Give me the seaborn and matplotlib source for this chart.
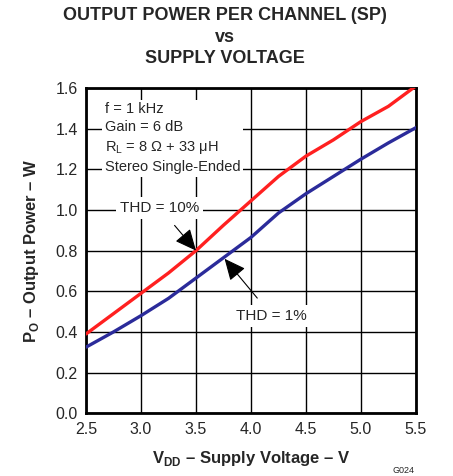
import pandas as pd
import seaborn as sns
import matplotlib.pyplot as plt

# supply voltage (V)
vdd = [2.5, 2.75, 3.0, 3.25, 3.5, 3.75, 4.0, 4.25, 4.5, 4.75, 5.0, 5.25, 5.5]
# output power per channel (W)
thd_10 = [0.39, 0.49, 0.59, 0.69, 0.80, 0.925, 1.045, 1.165, 1.265, 1.345, 1.435, 1.51, 1.61]
thd_1 = [0.325, 0.40, 0.48, 0.565, 0.665, 0.765, 0.865, 0.985, 1.08, 1.165, 1.25, 1.33, 1.405]

x_ticks = [2.5, 3.0, 3.5, 4.0, 4.5, 5.0, 5.5]
y_ticks = [0.0, 0.2, 0.4, 0.6, 0.8, 1.0, 1.2, 1.4, 1.6]

df = pd.DataFrame({
    "vdd": vdd * 2,
    "power": thd_10 + thd_1,
    "thd": ["THD = 10%"] * len(vdd) + ["THD = 1%"] * len(vdd),
})

sns.set_style("white")
plt.rcParams["font.family"] = ["Liberation Sans", "DejaVu Sans"]
plt.rcParams["mathtext.fontset"] = "custom"
plt.rcParams["mathtext.rm"] = "Liberation Sans"
plt.rcParams["mathtext.bf"] = "Liberation Sans:bold"

fig = plt.figure(figsize=(4.53, 4.76), dpi=100)
ax = fig.add_axes([0.19, 0.132, 0.728, 0.683])

ax.grid(True, color="black", linewidth=1.0)
ax.set_axisbelow(True)
sns.lineplot(data=df, x="vdd", y="power", hue="thd",
             palette={"THD = 10%": "#ff2020", "THD = 1%": "#2b2b9a"},
             linewidth=2.4, legend=False, ax=ax, zorder=3)

ax.set_xlim(2.5, 5.5)
ax.set_ylim(0, 1.6)
ax.set_xticks(x_ticks)
ax.set_yticks(y_ticks)
ax.set_xticklabels([f"{v:.1f}" for v in x_ticks], fontsize=11.5)
ax.set_yticklabels([f"{v:.1f}" for v in y_ticks], fontsize=11.5)
ax.tick_params(length=0, pad=6)
for s in ax.spines.values():
    s.set_visible(True)
    s.set_color("black")
    s.set_linewidth(2.0)

ax.set_xlabel(r"V$_{\mathbf{DD}}$ – Supply Voltage – V", fontsize=12, fontweight="bold", labelpad=9)
ax.set_ylabel(r"P$_{\mathbf{O}}$ – Output Power – W", fontsize=12, fontweight="bold", labelpad=10)

fig.text(0.496, 0.985, "OUTPUT POWER PER CHANNEL (SP)\nvs\nSUPPLY VOLTAGE",
         ha="center", va="top", fontsize=13, fontweight="bold", linespacing=1.35)

ax.text(2.67, 1.53,
        "f = 1 kHz\nGain = 6 dB\nR$_\\mathregular{L}$ = 8 Ω + 33 μH\nStereo Single-Ended",
        ha="left", va="top", fontsize=10.5, linespacing=1.38,
        bbox=dict(facecolor="white", edgecolor="none", pad=2), zorder=4)

ax.annotate("THD = 10%", xy=(3.5, 0.80), xytext=(3.17, 1.01),
            ha="center", va="center", fontsize=11,
            bbox=dict(facecolor="white", edgecolor="none", pad=3),
            arrowprops=dict(arrowstyle="-|>,head_length=1.2,head_width=0.55",
                            color="black", lw=0.8, shrinkA=6, shrinkB=0),
            zorder=5)
ax.annotate("THD = 1%", xy=(3.76, 0.76), xytext=(4.19, 0.48),
            ha="center", va="center", fontsize=11,
            bbox=dict(facecolor="white", edgecolor="none", pad=3),
            arrowprops=dict(arrowstyle="-|>,head_length=1.2,head_width=0.55",
                            color="black", lw=0.8, shrinkA=6, shrinkB=0),
            zorder=5)

fig.text(0.915, 0.003, "G024", fontsize=6.5, ha="right", va="bottom")

fig.savefig("out.png", dpi=100)
